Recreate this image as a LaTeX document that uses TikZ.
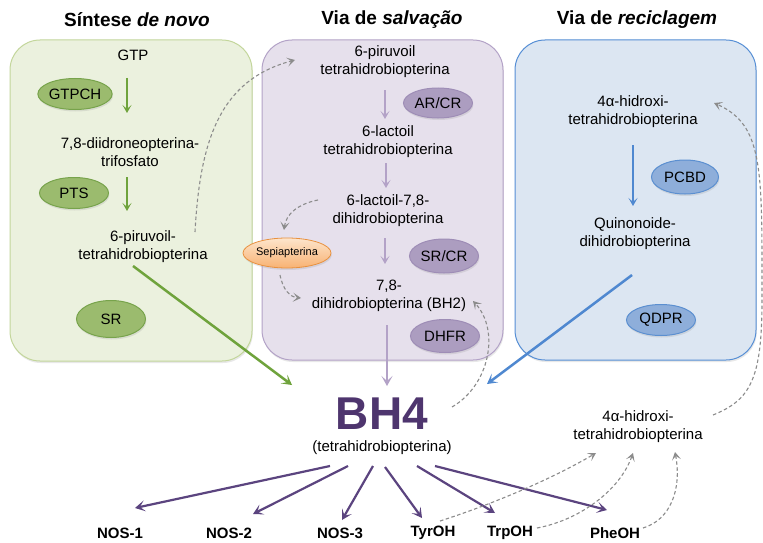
\documentclass[tikz,border=0pt]{standalone}
\usepackage{fontspec}
\setmainfont{Liberation Sans}
\usetikzlibrary{arrows.meta,shapes.geometric,shadows}
\definecolor{gbox}{HTML}{EBF1DE}
\definecolor{gboxd}{HTML}{C3D69B}
\definecolor{garr}{HTML}{6FA33C}
\definecolor{gell}{HTML}{9BBB6E}
\definecolor{gelld}{HTML}{77A34B}
\definecolor{pbox}{HTML}{E6E0EC}
\definecolor{pboxd}{HTML}{B3A2C7}
\definecolor{parr}{HTML}{B3A2C7}
\definecolor{pell}{HTML}{AC9DC0}
\definecolor{pelld}{HTML}{9E8DB6}
\definecolor{bbox}{HTML}{DCE6F2}
\definecolor{bboxd}{HTML}{558ED5}
\definecolor{barr}{HTML}{4F88D0}
\definecolor{bell}{HTML}{8EAEDA}
\definecolor{belld}{HTML}{5B8FD0}
\definecolor{dpur}{HTML}{5B447F}
\definecolor{bhc}{HTML}{4E356E}
\definecolor{dgray}{HTML}{8C8C8C}
\definecolor{ora}{HTML}{F8B273}
\definecolor{oral}{HTML}{FDE5CC}
\definecolor{orad}{HTML}{E8913F}
\tikzset{
  softshadow/.style={drop shadow={opacity=0.18, shadow xshift=0.8pt, shadow yshift=-2pt}},
  pathbox/.style={rounded corners=30pt, line width=1pt, softshadow},
  ttl/.style={font=\fontsize{19}{22}\selectfont\bfseries},
  txt/.style={font=\fontsize{15}{18}\selectfont, align=center, inner sep=0pt},
  lbl/.style={font=\fontsize{15}{18}\selectfont\bfseries, inner sep=0pt},
  enz/.style={ellipse, minimum width=69pt, minimum height=31pt, inner sep=0pt, line width=1pt, font=\fontsize{15}{18}\selectfont, softshadow},
  genz/.style={enz, fill=gell, draw=gelld},
  penz/.style={enz, fill=pell, draw=pelld},
  benz/.style={enz, fill=bell, draw=belld},
  sarr/.style={line width=2pt, -{Stealth[length=8pt,width=9pt,inset=4pt]}},
  larr/.style={line width=2.5pt, -{Stealth[length=10pt,width=11pt,inset=5pt]}},
  dsh/.style={dgray, line width=1.1pt, dash pattern=on 3.5pt off 2.5pt, -{Stealth[length=8pt,width=9pt,inset=4pt]}},
}
\begin{document}
\begin{tikzpicture}[x=1pt,y=-1pt]
\useasboundingbox (0,0) rectangle (763,543);
\fill[white] (0,0) rectangle (763,543);
% boxes
\draw[pathbox, fill=gbox, draw=gboxd] (10,40) rectangle (252,361);
\draw[pathbox, fill=pbox, draw=pboxd] (262,40) rectangle (503,360);
\draw[pathbox, fill=bbox, draw=bboxd] (515,40) rectangle (756,360);
% titles
\node[ttl] (t1) at (137,20) {Síntese \textit{de novo}};
\node[ttl] (t2) at (392,20) {Via de \textit{salvação}};
\node[ttl] (t3) at (637,20) {Via de \textit{reciclagem}};
% green
\node[txt] (gtp) at (133,55) {GTP};
\node[txt] (dhnp) at (130,152) {7,8-diidroneopterina-\\trifosfato};
\node[txt] (pt1) at (143,247) {6-piruvoil-\\tetrahidrobiopterina};
\node[genz] (gtpch) at (75,94) {GTPCH};
\node[genz] (pts) at (74,193) {PTS};
\node[genz, minimum height=37pt] (sr) at (111,319) {SR};
\coordinate (ga1) at (127,78); \coordinate (gb1) at (127,113);
\coordinate (ga2) at (127,177); \coordinate (gb2) at (127,211);
\draw[sarr, garr] (ga1) -- (gb1);
\draw[sarr, garr] (ga2) -- (gb2);
% purple
\node[txt] (pp1) at (385,62) {6-piruvoil\\tetrahidrobiopterina};
\node[txt] (lac) at (388,142) {6-lactoil\\tetrahidrobiopterina};
\node[txt] (lac78) at (388,211) {6-lactoil-7,8-\\dihidrobiopterina};
\node[txt] (bh2) at (389,296) {7,8-\\dihidrobiopterina (BH2)};
\node[penz, minimum height=30pt] (arcr) at (438,103) {AR/CR};
\node[penz, minimum height=34pt] (srcr) at (444,256) {SR/CR};
\node[penz, minimum height=33pt] (dhfr) at (445,336) {DHFR};
\node[ellipse, minimum width=88pt, minimum height=30pt, inner sep=0pt, top color=oral, bottom color=ora, draw=orad, line width=0.8pt, font=\fontsize{11}{13}\selectfont, softshadow] (sep) at (287,253) {Sepiapterina};
\coordinate (pa1) at (385,90); \coordinate (pb1) at (385,119);
\coordinate (pa2) at (386,163); \coordinate (pb2) at (386,188);
\coordinate (pa3) at (385,238); \coordinate (pb3) at (385,264);
\draw[sarr, parr] (pa1) -- (pb1);
\draw[sarr, parr] (pa2) -- (pb2);
\draw[sarr, parr] (pa3) -- (pb3);
% blue
\node[txt] (hx1) at (633,112) {4α-hidroxi-\\tetrahidrobiopterina};
\node[txt] (qd) at (635,234) {Quinonoide-\\dihidrobiopterina};
\node[benz, minimum width=67pt, minimum height=34pt] (pcbd) at (685,177) {PCBD};
\node[benz, minimum height=31pt] (qdpr) at (661,320) {QDPR};
\coordinate (ba1) at (633,145); \coordinate (bb1) at (633,206);
\draw[sarr, barr] (ba1) -- (bb1);
% BH4
\node[inner sep=0pt, text=bhc, font=\fontsize{46}{50}\selectfont\bfseries] (bh4) at (382,414) {BH4};
\node[txt] (th) at (382,448) {(tetrahidrobiopterina)};
\node[txt] (hx2) at (638,427) {4α-hidroxi-\\tetrahidrobiopterina};
% long arrows into BH4
\coordinate (gl1) at (133,266); \coordinate (gl2) at (292,385);
\coordinate (pl1) at (387,325); \coordinate (pl2) at (387,386);
\coordinate (bl1) at (632,275); \coordinate (bl2) at (487,384);
\draw[larr, garr] (gl1) -- (gl2);
\draw[larr, parr] (pl1) -- (pl2);
\draw[larr, barr] (bl1) -- (bl2);
% bottom labels
\node[lbl] (nos1) at (120,533) {NOS-1};
\node[lbl] (nos2) at (229,533) {NOS-2};
\node[lbl] (nos3) at (340,533) {NOS-3};
\node[lbl] (tyr) at (433,533) {TyrOH};
\node[lbl] (trp) at (510,533) {TrpOH};
\node[lbl] (phe) at (615,533) {PheOH};
\coordinate (o1) at (330,466); \coordinate (e1) at (135,508);
\coordinate (o2) at (348,466); \coordinate (e2) at (253,514);
\coordinate (o3) at (373,466); \coordinate (e3) at (342,520);
\coordinate (o4) at (385,467); \coordinate (e4) at (422,518);
\coordinate (o5) at (417,466); \coordinate (e5) at (495,513);
\coordinate (o6) at (435,466); \coordinate (e6) at (607,510);
\foreach \i in {1,...,6} {\draw[larr, dpur, line width=2.2pt] (o\i) -- (e\i);}
% dashed connectors
\coordinate (d1a) at (195,232); \coordinate (d1b) at (295,60);
\draw[dsh] (d1a) .. controls (200,140) and (220,80) .. (d1b);
\coordinate (d2a) at (318,200); \coordinate (d2b) at (284,230);
\draw[dsh] (d2a) .. controls (298,204) and (286,214) .. (d2b);
\coordinate (d3a) at (280,275); \coordinate (d3b) at (301,298);
\draw[dsh] (d3a) .. controls (283,290) and (290,297) .. (d3b);
\coordinate (d4a) at (452,407); \coordinate (d4b) at (473,301);
\draw[dsh] (d4a) .. controls (490,385) and (500,330) .. (d4b);
\coordinate (d5a) at (713,415); \coordinate (d5m) at (762,300); \coordinate (d5b) at (714,103);
\draw[dsh] (d5a) .. controls (750,400) and (762,380) .. (d5m) .. controls (762,170) and (764,125) .. (d5b);
\coordinate (d6a) at (440,521); \coordinate (d6b) at (596,453);
\draw[dsh] (d6a) .. controls (490,505) and (550,480) .. (d6b);
\coordinate (d7a) at (537,528); \coordinate (d7b) at (633,453);
\draw[dsh] (d7a) .. controls (580,520) and (620,490) .. (d7b);
\coordinate (d8a) at (643,528); \coordinate (d8b) at (675,452);
\draw[dsh] (d8a) .. controls (670,520) and (682,490) .. (d8b);
\end{tikzpicture}
\end{document}
